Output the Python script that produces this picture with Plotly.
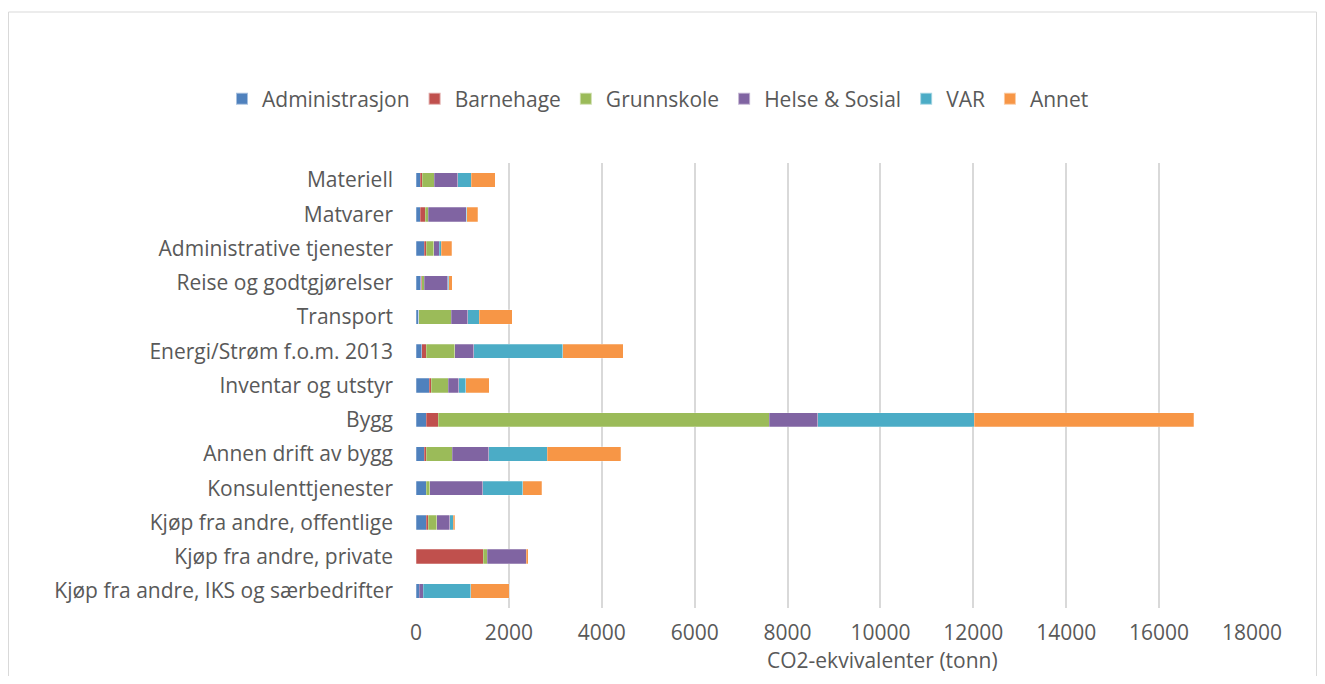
import plotly.graph_objects as go

categories = [
    "Materiell", "Matvarer", "Administrative tjenester", "Reise og godtgjørelser",
    "Transport", "Energi/Strøm f.o.m. 2013", "Inventar og utstyr", "Bygg",
    "Annen drift av bygg", "Konsulenttjenester", "Kjøp fra andre, offentlige",
    "Kjøp fra andre, private", "Kjøp fra andre, IKS og særbedrifter",
]

administrasjon = [94, 94, 181, 101, 58, 123, 289, 225, 181, 217, 224, 0, 72]
barnehage = [36, 101, 43, 20, 0, 94, 36, 250, 36, 5, 36, 1448, 0]
grunnskole = [267, 72, 159, 52, 700, 613, 368, 7130, 563, 79, 188, 87, 0]
helse_sosial = [506, 816, 115, 506, 354, 412, 224, 1050, 787, 1141, 274, 838, 80]
var = [288, 5, 44, 21, 253, 1920, 152, 3360, 1256, 852, 79, 5, 1025]
annet = [520, 245, 223, 80, 707, 1300, 512, 4730, 1589, 411, 37, 43, 830]

series_names = ["Administrasjon", "Barnehage", "Grunnskole", "Helse & Sosial", "VAR", "Annet"]
series_values = [administrasjon, barnehage, grunnskole, helse_sosial, var, annet]
colors = ["#4F81BD", "#C0504D", "#9BBB59", "#8064A2", "#4BACC6", "#F79646"]

x_ticks = [0, 2000, 4000, 6000, 8000, 10000, 12000, 14000, 16000, 18000]
x_title = "CO2-ekvivalenter (tonn)"

FONT = "'Open Sans', 'Noto Sans', sans-serif"
TXT = "#595959"
FS = 21
FS_X = 21

fig = go.Figure()
for name, vals, col in zip(series_names, series_values, colors):
    fig.add_trace(go.Bar(
        y=categories, x=vals, name=name, orientation="h",
        marker=dict(color=col, line=dict(color="rgba(255,255,255,0.5)", width=0.5)),
    ))

# page has an 8px body margin; compensate so the figure lands at the reference positions
OFF = 8
W, H = 1325 - 2 * OFF, 684 - 2 * OFF
L, T = 416 - OFF, 163 - OFF
R = W - (1252 - OFF)
B = H - (608 - OFF)
pw, ph = W - L - R, H - T - B

def px_x(p):
    return (p - OFF - L) / pw

def px_y(p):
    return (H - B - (p - OFF)) / ph

fig.update_layout(
    width=W, height=H,
    barmode="stack",
    bargap=0.58,
    plot_bgcolor="white", paper_bgcolor="white",
    margin=dict(l=L, r=R, t=T, b=B, pad=0),
    font=dict(family=FONT, size=FS, color=TXT),
    showlegend=True,
    legend=dict(
        orientation="h", traceorder="normal",
        x=px_x(222), xanchor="left",
        y=px_y(99), yanchor="middle",
        font=dict(family=FONT, size=FS, color=TXT),
        itemwidth=30, itemsizing="constant",
    ),
    xaxis=dict(
        range=[0, 18000], tickvals=x_ticks, ticktext=[str(v) for v in x_ticks],
        showgrid=True, gridcolor="#D9D9D9", gridwidth=2,
        zeroline=False, showline=False, ticks="", ticklabelstandoff=10,
        tickfont=dict(family=FONT, size=FS_X, color=TXT),
        automargin=False,
    ),
    yaxis=dict(
        autorange="reversed", showgrid=False, zeroline=False, showline=False,
        ticks="", ticklabelstandoff=22,
        tickfont=dict(family=FONT, size=FS, color=TXT),
        automargin=False,
    ),
    annotations=[dict(
        text=x_title, xref="paper", yref="paper",
        x=px_x(882), y=-B / ph, xanchor="center", yanchor="bottom", yshift=0,
        showarrow=False, font=dict(family=FONT, size=FS_X, color=TXT),
    )],
    shapes=[dict(
        type="rect", xref="paper", yref="paper",
        x0=px_x(OFF + 0.5), x1=px_x(OFF + W - 0.5), y0=px_y(720), y1=px_y(12),
        line=dict(color="#D9D9D9", width=1), fillcolor="rgba(0,0,0,0)", layer="below",
    )],
)

fig.write_html("out.html")
